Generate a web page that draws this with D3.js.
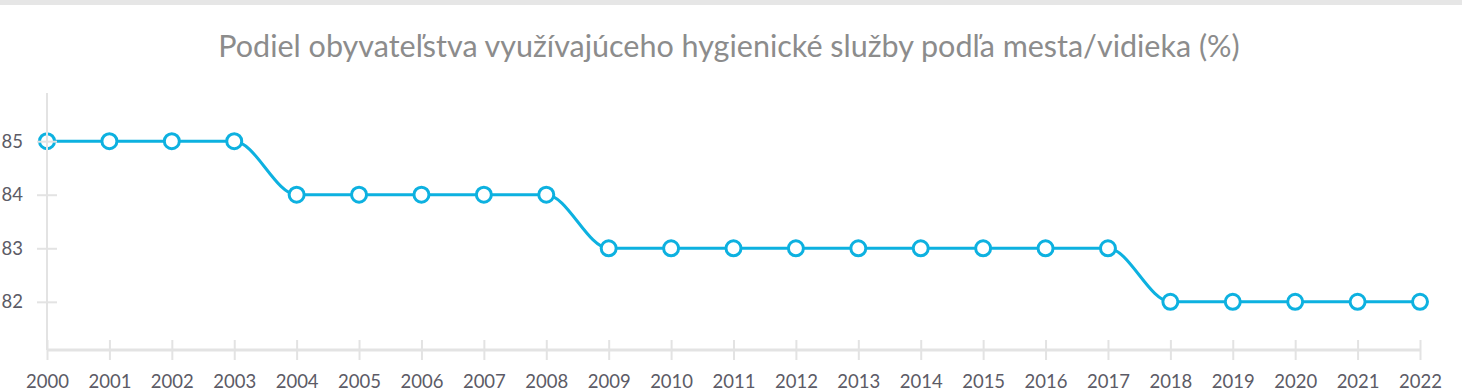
<!DOCTYPE html>
<html>
<head>
<meta charset="utf-8">
<script src="https://cdn.jsdelivr.net/npm/d3@7"></script>
<style>
  body { margin: 0; background: #fff; }
  #chart { width: 1462px; height: 392px; }
  text { font-family: Lato, "Open Sans", sans-serif; }
</style>
</head>
<body>
<div id="chart"></div>
<script>
const years = [2000, 2001, 2002, 2003, 2004, 2005, 2006, 2007, 2008, 2009, 2010, 2011,
               2012, 2013, 2014, 2015, 2016, 2017, 2018, 2019, 2020, 2021, 2022];
const values = [85, 85, 85, 85, 84, 84, 84, 84, 84, 83, 83, 83,
                83, 83, 83, 83, 83, 83, 82, 82, 82, 82, 82];
const yTicks = [82, 83, 84, 85];
const title = "Podiel obyvateľstva využívajúceho hygienické služby podľa mesta/vidieka (%)";

function drawChart() {
    const width = 1462;
    const height = 392;
    const lineColor = "#0db1e0";
    const axisColor = "#e3e3e3";
    const labelColor = "#5c5b66";

    const svg = d3.select("#chart").append("svg")
        .attr("width", width)
        .attr("height", height);

    // Top band
    svg.append("rect")
        .attr("x", 0).attr("y", 0)
        .attr("width", width).attr("height", 5)
        .attr("fill", "#e6e6e6");

    // Title
    svg.append("text")
        .attr("x", 729)
        .attr("y", 57)
        .attr("text-anchor", "middle")
        .attr("fill", "#8c8c8c")
        .style("font-size", "30.5px")
        .text(title);

    const x = d3.scaleLinear()
        .domain([2000, 2022])
        .range([47, 1420]);

    const y = d3.scaleLinear()
        .domain([81.1, 85.9])
        .range([350, 93]);

    const data = years.map((yr, i) => ({ year: yr, value: values[i] }));

    const line = d3.line()
        .x(d => x(d.year))
        .y(d => y(d.value))
        .curve(d3.curveMonotoneX);

    svg.append("path")
        .datum(data)
        .attr("fill", "none")
        .attr("stroke", lineColor)
        .attr("stroke-width", 3)
        .attr("d", line);

    svg.selectAll(".point")
        .data(data)
        .enter()
        .append("circle")
        .attr("class", "point")
        .attr("cx", d => x(d.year))
        .attr("cy", d => y(d.value))
        .attr("r", 7.5)
        .attr("fill", "#fff")
        .attr("stroke", lineColor)
        .attr("stroke-width", 3);

    // Y axis (drawn over the marks, as in the original)
    const yAxis = svg.append("g")
        .attr("transform", "translate(47,0)")
        .call(d3.axisLeft(y).tickValues(yTicks).tickFormat(d3.format("d")).tickSize(10));
    yAxis.select(".domain").attr("stroke", axisColor).attr("stroke-width", 2)
        .attr("d", `M0,${y(85.9)}V${y(81.1)}`);
    yAxis.selectAll(".tick line").attr("stroke", axisColor).attr("stroke-width", 2)
        .attr("x1", -10).attr("x2", 10);
    yAxis.selectAll(".tick text")
        .attr("fill", labelColor)
        .style("font-size", "18.5px")
        .attr("x", -24);

    // X axis
    const xAxis = svg.append("g")
        .attr("transform", "translate(0,350)")
        .call(d3.axisBottom(x).tickValues(years).tickFormat(d3.format("d")).tickSize(10));
    xAxis.select(".domain").attr("stroke", axisColor).attr("stroke-width", 3)
        .attr("d", `M${x(2000)},0H${x(2022)}`);
    xAxis.selectAll(".tick line").attr("stroke", axisColor).attr("stroke-width", 2)
        .attr("y1", -10).attr("y2", 10);
    xAxis.selectAll(".tick text")
        .attr("fill", labelColor)
        .style("font-size", "18.5px")
        .attr("y", 38)
        .attr("dy", null);
}

drawChart();
</script>
</body>
</html>
